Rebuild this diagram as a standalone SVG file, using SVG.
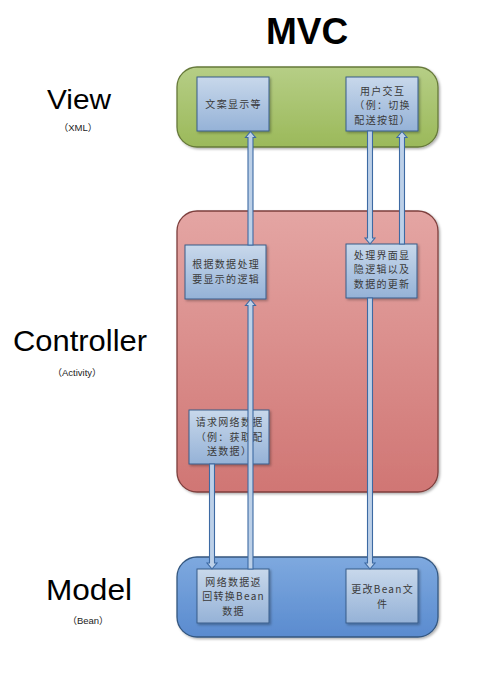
<svg xmlns="http://www.w3.org/2000/svg" width="485" height="677" viewBox="0 0 485 677">
<defs>
<linearGradient id="gGreen" x1="0" y1="0" x2="0" y2="1"><stop offset="0" stop-color="#b6ce86"/><stop offset="1" stop-color="#9bb95a"/></linearGradient>
<linearGradient id="gRed" x1="0" y1="0" x2="0" y2="1"><stop offset="0" stop-color="#e4a5a3"/><stop offset="1" stop-color="#d07674"/></linearGradient>
<linearGradient id="gBlue" x1="0" y1="0" x2="0" y2="1"><stop offset="0" stop-color="#7ea9df"/><stop offset="1" stop-color="#5a8bcf"/></linearGradient>
<linearGradient id="gNode" x1="0" y1="0" x2="0" y2="1"><stop offset="0" stop-color="#c8d8eb"/><stop offset="1" stop-color="#95b2d7"/></linearGradient>
<filter id="sh" x="-10%" y="-10%" width="130%" height="130%"><feDropShadow dx="1.5" dy="1.5" stdDeviation="1" flood-color="#000" flood-opacity="0.3"/></filter>
</defs>
<style>
.layer{stroke-width:1.3;filter:url(#sh)}
.node rect{fill:url(#gNode);stroke:#385d8a;stroke-width:1;filter:url(#sh)}
.node text{font-family:"Noto Sans CJK SC","Liberation Sans",sans-serif;font-size:10px;letter-spacing:1.3px;fill:#3a3a3a;text-anchor:middle}
.arrow{fill:#bcd0e8;stroke:#3d6aa3;stroke-width:1.1}
.big{font-family:"Liberation Sans","Noto Sans CJK SC",sans-serif;fill:#000;text-anchor:middle}
.sub{font-family:"Liberation Sans","Noto Sans CJK SC",sans-serif;font-size:9.5px;fill:#222;text-anchor:middle}
</style>
<rect width="485" height="677" fill="#fff"/>
<text class="big" x="307" y="44" font-size="37" font-weight="bold">MVC</text>
<g id="label-view"><text class="big" x="79" y="109" font-size="28" textLength="64" lengthAdjust="spacingAndGlyphs">View</text><text class="sub" x="78" y="131">（XML）</text></g>
<g id="label-controller"><text class="big" x="80" y="351" font-size="29" textLength="134" lengthAdjust="spacingAndGlyphs">Controller</text><text class="sub" x="77" y="376">（Activity）</text></g>
<g id="label-model"><text class="big" x="89" y="600" font-size="29" textLength="86" lengthAdjust="spacingAndGlyphs">Model</text><text class="sub" x="88" y="624">（Bean）</text></g>
<g id="layer-view"><rect class="layer" x="177" y="67" width="261" height="80" rx="20" fill="url(#gGreen)" stroke="#66793a"/></g>
<g id="layer-controller"><rect class="layer" x="177" y="211" width="261" height="281" rx="20" fill="url(#gRed)" stroke="#7d3f3d"/></g>
<g id="layer-model"><rect class="layer" x="177" y="557" width="261" height="80" rx="20" fill="url(#gBlue)" stroke="#34577f"/></g>
<g id="node-text-display" class="node"><rect x="197" y="77" width="72" height="54"/><text x="233.6" y="108">文案显示等</text></g>
<g id="node-user-interaction" class="node"><rect x="346" y="77" width="72" height="54"/><text x="382.6" y="94.5">用户交互<tspan x="382.6" dy="14.5">（例：切换</tspan><tspan x="382.6" dy="14.5">配送按钮）</tspan></text></g>
<g id="node-display-logic" class="node"><rect x="185" y="245" width="81" height="54"/><text x="226.1" y="268">根据数据处理<tspan x="226.1" dy="15">要显示的逻辑</tspan></text></g>
<g id="node-ui-logic" class="node"><rect x="346" y="244" width="71" height="54"/><text x="382.1" y="258.5">处理界面显<tspan x="382.1" dy="14.5">隐逻辑以及</tspan><tspan x="382.1" dy="14.5">数据的更新</tspan></text></g>
<g id="node-request" class="node"><rect x="189" y="410" width="80" height="54"/><text x="229.6" y="426">请求网络数据<tspan x="229.6" dy="14.5">（例：获取配</tspan><tspan x="229.6" dy="14.5">送数据）</tspan></text></g>
<g id="node-network-return" class="node"><rect x="197" y="569" width="72" height="54"/><text x="233.6" y="585.5">网络数据返<tspan x="233.6" dy="14.5">回转换Bean</tspan><tspan x="233.6" dy="14.5">数据</tspan></text></g>
<g id="node-change-bean" class="node"><rect x="346" y="569" width="72" height="54"/><text x="382.6" y="593">更改Bean文<tspan x="382.6" dy="14.5">件</tspan></text></g>
<g id="connectors">
<path class="arrow" d="M248,245 V137.5 H245.5 L250.5,131.5 L255.5,137.5 H253 V245 Z"/>
<path class="arrow" d="M367.5,131 V238 H365 L370,244 L375,238 H372.5 V131 Z"/>
<path class="arrow" d="M399.5,244 V137.5 H397 L402,131.5 L407,137.5 H404.5 V244 Z"/>
<path class="arrow" d="M248,569 V305.5 H245.5 L250.5,299.5 L255.5,305.5 H253 V569 Z"/>
<path class="arrow" d="M209.5,464 V563 H207 L212,569 L217,563 H214.5 V464 Z"/>
<path class="arrow" d="M367.5,298 V563 H365 L370,569 L375,563 H372.5 V298 Z"/>
</g>
</svg>
